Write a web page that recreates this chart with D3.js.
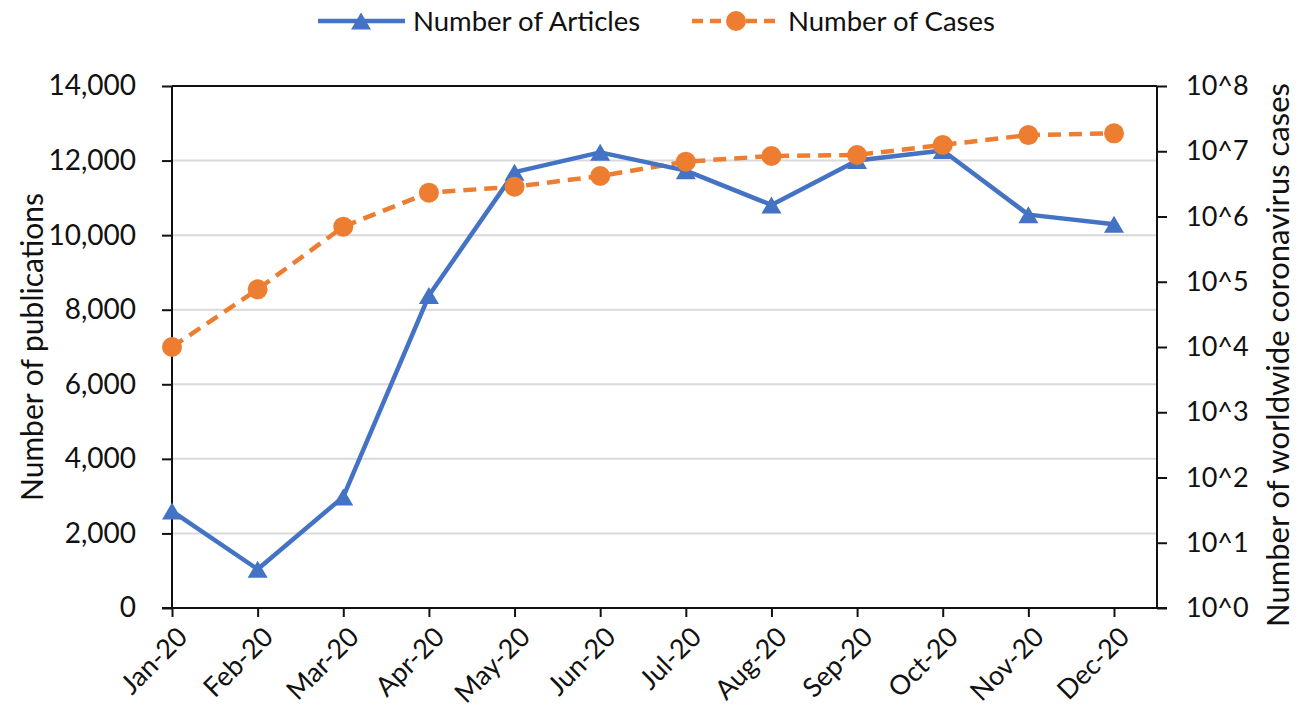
<!DOCTYPE html>
<html>
<head>
<meta charset="utf-8">
<script src="https://cdn.jsdelivr.net/npm/d3@7"></script>
<style>
  html, body { margin: 0; padding: 0; background: #fff; }
  svg { display: block; }
  text { font-family: Lato, "Open Sans", sans-serif; fill: #111; }
</style>
</head>
<body>
<svg id="chart" width="1303" height="709"></svg>
<script>
// ---- data ----
const months = ["Jan-20","Feb-20","Mar-20","Apr-20","May-20","Jun-20","Jul-20","Aug-20","Sep-20","Oct-20","Nov-20","Dec-20"];
const articles = [2600, 1040, 2980, 8380, 11690, 12220, 11730, 10810, 12000, 12270, 10550, 10290];
const cases = [10000, 76600, 698000, 2320000, 2860000, 4180000, 6920000, 8450000, 8770000, 12500000, 17700000, 18800000];
const leftTicks = [0, 2000, 4000, 6000, 8000, 10000, 12000, 14000];
const rightExponents = [0, 1, 2, 3, 4, 5, 6, 7, 8];
const seriesNames = ["Number of Articles", "Number of Cases"];
const leftTitle = "Number of publications";
const rightTitle = "Number of worldwide coronavirus cases";

// ---- layout ----
const plotLeft = 172, plotRight = 1157, plotTop = 86, plotBottom = 608;
const blue = "#4472C4", orange = "#ED7D31";

const svg = d3.select("#chart");

const x = d3.scalePoint().domain(months).range([plotLeft, 1114]);
const yL = d3.scaleLinear().domain([0, 14000]).range([plotBottom, plotTop]);
const yR = d3.scaleLog().domain([1, 1e8]).range([plotBottom, plotTop]);

// gridlines
svg.append("g").selectAll("line")
  .data(leftTicks.filter(t => t > 0 && t < 14000))
  .join("line")
  .attr("x1", plotLeft).attr("x2", plotRight)
  .attr("y1", d => yL(d)).attr("y2", d => yL(d))
  .attr("stroke", "#d9d9d9").attr("stroke-width", 2);

// top border
svg.append("line")
  .attr("x1", plotLeft).attr("x2", plotRight)
  .attr("y1", yL(14000)).attr("y2", yL(14000))
  .attr("stroke", "#111").attr("stroke-width", 2);

// left axis
const gL = svg.append("g").attr("transform", `translate(${plotLeft},0)`)
  .call(d3.axisLeft(yL).tickValues(leftTicks).tickFormat(d3.format(",")).tickSize(10).tickPadding(26));
// right axis
const gR = svg.append("g").attr("transform", `translate(${plotRight},0)`)
  .call(d3.axisRight(yR).tickValues(rightExponents.map(e => Math.pow(10, e)))
    .tickFormat((d, i) => "10^" + rightExponents[i]).tickSize(10).tickPadding(19));
// bottom axis
const gB = svg.append("g").attr("transform", `translate(0,${plotBottom})`)
  .call(d3.axisBottom(x).tickSize(9).tickPadding(6));

[gL, gR, gB].forEach(g => {
  g.select(".domain").remove();
  g.selectAll(".tick line").attr("stroke", "#111").attr("stroke-width", 2);
  g.selectAll("text").attr("fill", "#111");
});
gL.selectAll("text").style("font-size", "28px");
gR.selectAll("text").style("font-size", "27px");
gB.selectAll(".tick text")
  .attr("text-anchor", "end")
  .attr("dy", "0.35em")
  .attr("transform", "translate(10,24) rotate(-45)")
  .attr("y", 0).attr("x", 0)
  .style("font-size", "27px");

// axis lines
svg.append("line").attr("x1", plotLeft).attr("x2", plotLeft).attr("y1", plotTop).attr("y2", plotBottom)
  .attr("stroke", "#111").attr("stroke-width", 2);
svg.append("line").attr("x1", plotRight).attr("x2", plotRight).attr("y1", plotTop).attr("y2", plotBottom)
  .attr("stroke", "#111").attr("stroke-width", 2);
svg.append("line").attr("x1", plotLeft - 10).attr("x2", plotRight + 10).attr("y1", plotBottom).attr("y2", plotBottom)
  .attr("stroke", "#111").attr("stroke-width", 2);

// axis titles
svg.append("text")
  .attr("transform", `translate(43,${(plotTop + plotBottom) / 2}) rotate(-90)`)
  .attr("text-anchor", "middle").style("font-size", "30px").text(leftTitle);
svg.append("text")
  .attr("transform", `translate(1267,${(plotTop + plotBottom) / 2 + 8}) rotate(-90)`)
  .attr("text-anchor", "middle").attr("dy", "0.7em").style("font-size", "31px").text(rightTitle);

// triangle marker path
const tri = (w, h) => `M0,${-h / 2}L${w / 2},${h / 2}L${-w / 2},${h / 2}Z`;

// cases line (drawn first, under articles)
const lineCases = d3.line().x((d, i) => x(months[i])).y(d => yR(d));
svg.append("path").datum(cases)
  .attr("d", lineCases).attr("fill", "none")
  .attr("stroke", orange).attr("stroke-width", 4.5).attr("stroke-dasharray", "13,8");

// articles line
const lineArt = d3.line().x((d, i) => x(months[i])).y(d => yL(d));
svg.append("path").datum(articles)
  .attr("d", lineArt).attr("fill", "none")
  .attr("stroke", blue).attr("stroke-width", 4.5).attr("stroke-linejoin", "round");

svg.append("g").selectAll("path").data(articles).join("path")
  .attr("d", tri(20, 17))
  .attr("transform", (d, i) => `translate(${x(months[i])},${yL(d)})`)
  .attr("fill", blue);

svg.append("g").selectAll("circle").data(cases).join("circle")
  .attr("cx", (d, i) => x(months[i])).attr("cy", d => yR(d)).attr("r", 10)
  .attr("fill", orange);

// legend
const leg = svg.append("g");
leg.append("line").attr("x1", 318).attr("x2", 405).attr("y1", 21).attr("y2", 21)
  .attr("stroke", blue).attr("stroke-width", 4.5);
leg.append("path").attr("d", tri(20, 17)).attr("transform", "translate(361,21)").attr("fill", blue);
leg.append("text").attr("x", 413).attr("y", 21).attr("dy", "0.35em").style("font-size", "27.5px").text(seriesNames[0]);

leg.append("line").attr("x1", 692).attr("x2", 781).attr("y1", 21).attr("y2", 21)
  .attr("stroke", orange).attr("stroke-width", 4.5).attr("stroke-dasharray", "11,7");
leg.append("circle").attr("cx", 736).attr("cy", 21).attr("r", 10).attr("fill", orange);
leg.append("text").attr("x", 788).attr("y", 21).attr("dy", "0.35em").style("font-size", "27.5px").text(seriesNames[1]);
</script>
</body>
</html>
